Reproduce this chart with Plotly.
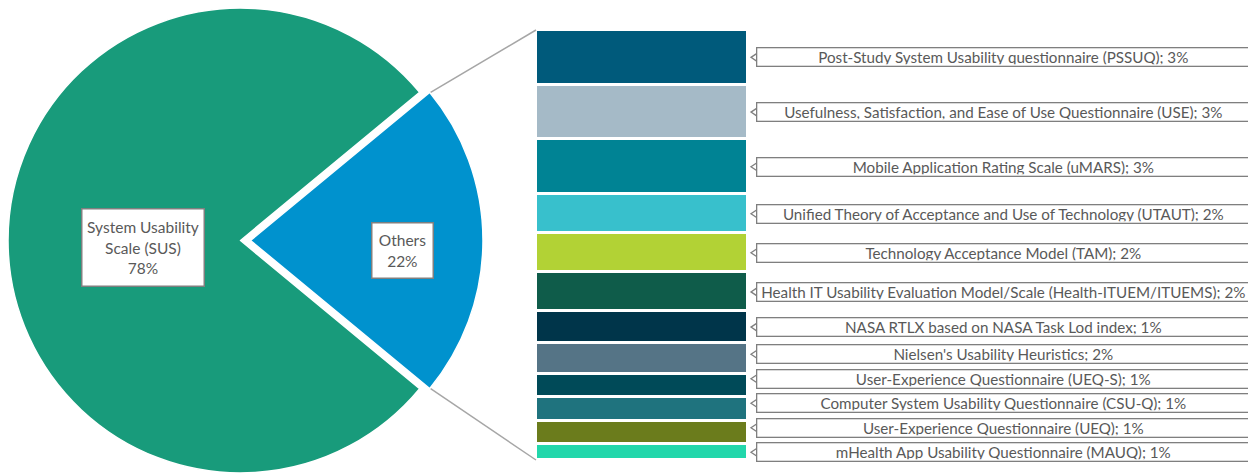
import math
import plotly.graph_objects as go

# ---------------- data ----------------
pie_labels = ["Others", "System Usability Scale (SUS)"]
pie_values = [22, 78]
pie_text = ["Others<br>22%", "System Usability<br>Scale (SUS)<br>78%"]
pie_colors = ["#0092CE", "#189B7B"]

bar_labels = [
    "Post-Study System Usability questionnaire (PSSUQ)",
    "Usefulness, Satisfaction, and Ease of Use Questionnaire (USE)",
    "Mobile Application Rating Scale (uMARS)",
    "Unified Theory of Acceptance and Use of Technology (UTAUT)",
    "Technology Acceptance Model (TAM)",
    "Health IT Usability Evaluation Model/Scale (Health-ITUEM/ITUEMS)",
    "NASA RTLX based on NASA Task Lod index",
    "Nielsen's Usability Heuristics",
    "User-Experience Questionnaire (UEQ-S)",
    "Computer System Usability Questionnaire (CSU-Q)",
    "User-Experience Questionnaire (UEQ)",
    "mHealth App Usability Questionnaire (MAUQ)",
]
bar_values = [2.8, 2.8, 2.8, 2.0, 2.0, 2.0, 1.6, 1.6, 1.2, 1.2, 1.2, 0.8]
bar_pct = ["3%", "3%", "3%", "2%", "2%", "2%", "1%", "2%", "1%", "1%", "1%", "1%"]
bar_colors = ["#005A7B", "#A5BAC7", "#008394", "#38C0CC", "#B2D235", "#0F5C4A",
              "#00354A", "#557486", "#004A58", "#1F737E", "#6B7C1C", "#22D7AB"]

# ---------------- layout geometry (page pixels) ----------------
OFF = 8                      # page body margin
W, H = 1256 - OFF, 473 - OFF  # figure size
PIE_R = H / 2
PIE_CX = OFF + PIE_R
PIE_PULL_PX = 10
BAR_X0, BAR_X1 = 536, 748
BAR_Y0, BAR_Y1 = 30, 460          # top, bottom (pixels from top)
BOX_X0, BOX_X1 = 756, 1252
TIP_X = 751
LABEL_GAP_PX = 24.5
GREY_TEXT = "#595959"
BOX_LINE = "#7F7F7F"
FONT = "Lato, Roboto, sans-serif"


def px(x):
    return (x - OFF) / W


def py(y):
    return 1 - (y - OFF) / H


pie_dom_y = [0, 1]
PIE_CY = OFF + PIE_R  # pixel y of pie center

fig = go.Figure()

transparent = "rgba(0,0,0,0)"
rot = 90 - 180 * pie_values[0] / sum(pie_values)
# main pie (SUS slice drawn here)
fig.add_trace(go.Pie(
    labels=pie_labels, values=pie_values, sort=False, direction="clockwise",
    rotation=rot,
    marker=dict(colors=[transparent, pie_colors[1]],
                line=dict(color="white", width=[0, 1.5])),
    textinfo="none", hoverinfo="label+percent",
    domain=dict(x=[max(0, px(PIE_CX - PIE_R)), px(PIE_CX + PIE_R)], y=pie_dom_y),
    showlegend=False,
))
# exploded "Others" slice
fig.add_trace(go.Pie(
    labels=pie_labels, values=pie_values, sort=False, direction="clockwise",
    rotation=rot,
    marker=dict(colors=[pie_colors[0], transparent],
                line=dict(color="white", width=[1.5, 0])),
    textinfo="none", hoverinfo="label+percent",
    domain=dict(x=[px(PIE_CX - PIE_R + PIE_PULL_PX), px(PIE_CX + PIE_R + PIE_PULL_PX)], y=pie_dom_y),
    showlegend=False,
))

# stacked bar of "Others" (bottom segment first)
total = sum(bar_values)
for lab, val, col in list(zip(bar_labels, bar_values, bar_colors))[::-1]:
    fig.add_trace(go.Bar(
        x=[0], y=[val], name=lab, marker=dict(color=col, line=dict(color="white", width=3)),
        width=1, hoverinfo="name+y", showlegend=False,
    ))

annotations = []
shapes = []

# pie labels
half_ang = math.pi * pie_values[0] / sum(pie_values)
annotations.append(dict(
    x=px(PIE_CX - 0.42 * PIE_R), y=py(PIE_CY + 7), xref="paper", yref="paper",
    xanchor="center", yanchor="middle",
    text=pie_text[1], showarrow=False, align="center",
    font=dict(family=FONT, size=15.5, color=GREY_TEXT),
    bgcolor="white", bordercolor=BOX_LINE, borderwidth=1.5, borderpad=3,
    width=115, height=70,
))
annotations.append(dict(
    x=px(PIE_CX + PIE_PULL_PX + 0.655 * PIE_R), y=py(PIE_CY + 10), xref="paper", yref="paper",
    xanchor="center", yanchor="middle",
    text=pie_text[0], showarrow=False, align="center",
    font=dict(family=FONT, size=15.5, color=GREY_TEXT),
    bgcolor="white", bordercolor=BOX_LINE, borderwidth=1.5, borderpad=3,
    width=54, height=48,
))

# series connector lines
ox = PIE_CX + PIE_PULL_PX + PIE_R * math.cos(half_ang)
oy_top = PIE_CY - PIE_R * math.sin(half_ang)
oy_bot = PIE_CY + PIE_R * math.sin(half_ang)
for (y0, y1) in [(oy_top, BAR_Y0), (oy_bot, BAR_Y1)]:
    shapes.append(dict(type="line", xref="paper", yref="paper",
                       x0=px(ox + 1), y0=py(y0), x1=px(BAR_X0), y1=py(y1),
                       line=dict(color="#A6A6A6", width=1.5)))

# bar labels with callout boxes, placed at segment centres, de-overlapped from the bottom
units_per_px = total / (BAR_Y1 - BAR_Y0)
gap_units = LABEL_GAP_PX * units_per_px
cum = 0
label_y = []
prev = None
for val in bar_values[::-1]:
    c = cum + val / 2
    if prev is not None and c < prev + gap_units:
        c = prev + gap_units
    label_y.append(c)
    prev = c
    cum += val
label_y = label_y[::-1]

for lab, pct, yv in zip(bar_labels, bar_pct, label_y):
    annotations.append(dict(
        x=px(BOX_X0), y=yv, xref="paper", yref="y",
        xanchor="left", yanchor="middle",
        text=f"{lab}; {pct}", showarrow=False, align="center",
        font=dict(family=FONT, size=15.2, color=GREY_TEXT),
        bgcolor="white", bordercolor=BOX_LINE, borderwidth=1.3, borderpad=1,
        width=BOX_X1 - BOX_X0 - 6, height=15, valign="middle",
    ))
    d = 4 * units_per_px
    shapes.append(dict(
        type="path", xref="paper", yref="y",
        path=f"M {px(BOX_X0 + 1)},{yv + d} L {px(TIP_X)},{yv} L {px(BOX_X0 + 1)},{yv - d}",
        line=dict(color=BOX_LINE, width=1.3),
    ))

fig.update_layout(
    width=W, height=H, margin=dict(l=0, r=0, t=0, b=0),
    paper_bgcolor="white", plot_bgcolor="white",
    barmode="stack", bargap=0, showlegend=False,
    xaxis=dict(domain=[px(BAR_X0), px(BAR_X1)], range=[-0.5, 0.5], visible=False, fixedrange=True),
    yaxis=dict(domain=[py(BAR_Y1), py(BAR_Y0)], range=[0, total], visible=False, fixedrange=True),
    annotations=annotations, shapes=shapes,
    font=dict(family=FONT, color=GREY_TEXT),
)

fig.write_html("out.html")
